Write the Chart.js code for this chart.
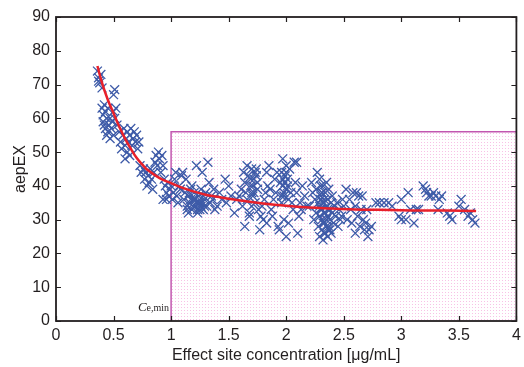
<!DOCTYPE html>
<html>
<head>
<meta charset="utf-8">
<script src="https://cdn.jsdelivr.net/npm/chart.js@4/dist/chart.umd.min.js"></script>
<style>
html,body{margin:0;padding:0;background:#fff;}
#wrap{width:524px;height:367px;position:relative;}
</style>
</head>
<body>
<div id="wrap"><canvas id="c" width="524" height="367"></canvas></div>
<script>
// ---- data ----
const concentration = [
0.36,0.37,0.38,0.39,0.40,0.37,0.51,0.50,
0.40,0.41,0.42,0.43,0.44,0.45,0.42,0.43,0.44,0.46,0.47,0.48,0.45,0.49,0.50,0.51,0.52,0.53,0.47,0.41,0.50,
0.55,0.56,0.58,0.59,0.60,0.61,0.62,0.63,0.64,0.65,0.66,0.67,0.68,0.69,0.70,0.71,0.62,0.60,0.64,0.72,0.57,
0.73,0.74,0.76,0.77,0.78,0.79,0.80,0.81,0.82,0.83,0.84,0.85,0.86,0.87,0.88,0.89,0.90,0.91,0.92,0.93,0.94,0.95,0.96,0.97,0.98,0.99,0.93,0.96,
1.00,1.01,1.02,1.03,1.04,1.05,1.06,1.07,1.08,1.09,1.10,1.11,1.12,1.13,1.14,1.15,1.16,1.17,1.18,1.19,1.20,1.21,1.22,1.23,1.24,1.25,1.26,1.27,1.28,1.29,1.30,1.31,1.32,1.33,1.34,1.35,1.36,1.37,1.38,1.40,1.42,1.44,1.18,1.22,1.25,1.20,1.28,1.15,
1.19,1.21,1.23,1.24,1.26,1.17,1.14,1.27,1.29,1.16,
1.47,1.48,1.50,1.52,1.55,1.57,1.59,1.61,1.62,1.63,1.64,1.65,1.66,1.67,1.68,1.69,1.70,1.71,1.72,1.73,1.74,1.75,1.76,1.64,1.77,1.78,1.79,1.80,1.81,1.82,1.83,1.83,1.84,1.66,1.70,1.68,1.72,1.75,
1.69,1.71,1.73,1.74,1.70,
1.85,1.86,1.87,1.88,1.89,1.90,1.91,1.92,1.93,1.94,1.95,1.96,1.97,1.97,1.98,1.99,2.00,2.00,2.01,2.02,2.03,2.04,2.05,2.06,2.07,2.08,2.09,2.09,2.10,2.11,2.12,2.13,2.14,1.96,2.00,1.98,2.02,
1.97,1.98,1.99,2.00,2.01,1.96,
2.16,2.18,2.20,2.22,2.23,2.24,2.25,2.26,2.27,2.28,2.29,2.29,2.30,2.30,2.31,2.31,2.32,2.32,2.33,2.33,2.34,2.34,2.35,2.35,2.36,2.36,2.37,2.37,2.38,2.38,2.39,2.39,2.40,2.40,2.41,2.42,2.43,2.44,2.45,2.46,2.47,2.48,2.49,2.30,2.28,2.26,2.31,2.33,2.35,2.32,2.36,2.38,
2.29,2.31,2.32,2.33,2.34,2.30,2.35,2.37,2.31,2.33,2.29,2.36,
2.50,2.52,2.53,2.55,2.56,2.57,2.58,2.60,2.61,2.62,2.63,2.64,2.65,2.66,2.67,2.68,2.69,2.70,2.72,2.74,2.60,2.71,
2.78,2.81,2.85,2.89,2.92,2.98,3.00,3.04,3.06,3.08,3.11,3.13,3.15,3.19,3.21,3.22,3.24,3.26,3.28,3.30,3.33,3.35,3.32,3.40,3.42,3.44,3.50,3.52,3.55,3.58,3.60,3.62,3.64,3.00
];
const aepEX = [
74,72,70.5,73,69,71,68.5,67,
63,61,64,62,60,63,58,57,55,58,60,57,56,59,62,60,63,58,54,59,55,
56,53,55,57,52,54,56,53,55,57,52,54,56,53,55,51,50,48,49,53,51,
46,44,45,42,44,40,43,41,45,42,39,44,47,49,46,50,48,44,49,46,42,40,38,41,37,39,36,36,
40,36,38,42,44,37,35,40,39,43,44,36,38,42,34,37,35,39,33,36,38,34,46,32,37,35,39,44,33,36,38,34,47,41,35,37,36,39,33,34,38,36,40,35,33,36,37,32,
34,36,33,35,34,36,33,35,34,38,
42,35,40,37,32,36,37,39,34,44,41,38,36,43,31,40,45,37,42,35,45,39,33,28,27,31,34,30,36,38,44,29,40,46,34,32,38,41,
42,40,44,43,38,
46,39,33,31,36,42,38,44,28,27,41,44,48,40,37,43,25,39,42,36,45,38,35,33,47,41,47,38,26,31,35,33,40,35,46,30,29,
42,38,41,44,40,37,
37,34,34,41,38,30,36,39,44,28,42,25,33,37,30,27,40,35,32,29,38,26,41,34,31,36,28,39,33,30,35,26,37,32,29,34,31,35,28,33,30,31,36,40,35,32,38,36,28,24,25,27,
31,33,29,35,32,36,30,27,38,26,34,33,
34,39,30,36,33,29,38,34,38,31,37,28,33,37,30,27,29,33,27,28,26,25,
35,35,35,35,34,31,30,30,38,33,29,33,33,40,39,38,37,37,38,37,36,37,33,32,31,30,34,36,33,31,32,30,29,36
];
// fitted curve
const fitConc = [0.36,0.40,0.45,0.50,0.55,0.60,0.65,0.70,0.75,0.80,0.90,1.00,1.10,1.20,1.30,1.40,1.50,1.60,1.80,2.00,2.20,2.40,2.60,2.80,3.00,3.20,3.40,3.65];
const fitAep  = [75.5,70.5,65.5,61.5,57.5,54,51,48.3,46.3,44.6,42.3,40.8,39.4,38.3,37.4,36.8,36.2,35.7,34.8,34.1,33.6,33.3,33.0,32.9,32.8,32.7,32.7,32.6];
// region C >= Ce,min
const regionX = [1, 4];
const regionY = [0, 56];
const xTicks = [0,0.5,1,1.5,2,2.5,3,3.5,4];
const yTicks = [0,10,20,30,40,50,60,70,80,90];

const scatterPts = concentration.map((x,i)=>({x:x, y:aepEX[i]}));
const fitPts = fitConc.map((x,i)=>({x:x, y:fitAep[i]}));

// dotted pink pattern
const tile = document.createElement('canvas');
tile.width = 3; tile.height = 3;
const tctx = tile.getContext('2d');
tctx.fillStyle = 'rgba(240,120,200,0.45)';
tctx.fillRect(1,1,1,1);

const FONT = "'Liberation Sans', Arial, sans-serif";
const TXT = '#231f20';

const regionPlugin = {
  id:'region',
  beforeDatasetsDraw(chart){
    const {ctx, scales:{x,y}} = chart;
    const x0 = x.getPixelForValue(regionX[0]), x1 = x.getPixelForValue(regionX[1]);
    const y0 = y.getPixelForValue(regionY[0]), y1 = y.getPixelForValue(regionY[1]);
    ctx.save();
    const pat = ctx.createPattern(tile,'repeat');
    ctx.fillStyle = pat;
    ctx.fillRect(x0, y1, x1-x0, y0-y1);
    ctx.strokeStyle = '#c257b0';
    ctx.lineWidth = 1.5;
    ctx.beginPath();
    ctx.moveTo(x0, y0); ctx.lineTo(x0, y1); ctx.lineTo(x1, y1);
    ctx.stroke();
    // label Ce,min
    ctx.fillStyle = TXT;
    ctx.textBaseline = 'alphabetic';
    ctx.font = "10px 'Liberation Serif', serif";
    const sub = 'e,min';
    const wSub = ctx.measureText(sub).width;
    ctx.textAlign = 'left';
    const right = x0 - 2;
    ctx.fillText(sub, right - wSub, y0 - 10);
    ctx.font = "italic 13px 'Liberation Serif', serif";
    const wC = ctx.measureText('C').width;
    ctx.fillText('C', right - wSub - wC, y0 - 10);
    ctx.restore();
  }
};

const framePlugin = {
  id:'frame',
  afterDraw(chart){
    const {ctx, chartArea:a, scales:{x,y}} = chart;
    ctx.save();
    ctx.strokeStyle = '#231f20';
    ctx.lineWidth = 1.2;
    const L = 5;
    ctx.beginPath();
    xTicks.forEach(v=>{
      const px = Math.round(x.getPixelForValue(v))+0.5;
      ctx.moveTo(px, a.bottom); ctx.lineTo(px, a.bottom - L);
      ctx.moveTo(px, a.top); ctx.lineTo(px, a.top + L);
    });
    yTicks.forEach(v=>{
      const py = Math.round(y.getPixelForValue(v))+0.5;
      ctx.moveTo(a.left, py); ctx.lineTo(a.left + L, py);
      ctx.moveTo(a.right, py); ctx.lineTo(a.right - L, py);
    });
    ctx.stroke();
    ctx.lineWidth = 1.8;
    ctx.strokeRect(a.left, a.top, a.right-a.left, a.bottom-a.top);
    ctx.restore();
  }
};

new Chart(document.getElementById('c'), {
  type:'scatter',
  data:{
    datasets:[
      { type:'line', data:fitPts, borderColor:'#e8202a', borderWidth:2.5, pointRadius:0, tension:0.4, fill:false, order:0 },
      { data:scatterPts, pointStyle:'crossRot', pointRadius:6.3, borderColor:'#3e5ba8', backgroundColor:'#3e5ba8', pointBorderWidth:1.3, order:1 }
    ]
  },
  options:{
    responsive:false,
    animation:false,
    events:[],
    layout:{padding:{left:0, top:17, right:5, bottom:0}},
    plugins:{legend:{display:false}, tooltip:{enabled:false}},
    scales:{
      x:{
        type:'linear', min:0, max:4,
        afterBuildTicks(s){ s.ticks = xTicks.map(v=>({value:v})); },
        afterFit(s){ s.height = 46; s.paddingRight = 0; s.paddingLeft = 0; },
        grid:{display:false, drawTicks:false},
        border:{display:false},
        ticks:{font:{family:FONT, size:16}, color:TXT, padding:5, maxRotation:0, autoSkip:false, callback:(v)=>String(v)},
        title:{display:true, text:'Effect site concentration [μg/mL]', font:{family:FONT, size:16}, color:TXT, padding:{top:0,bottom:2}}
      },
      y:{
        type:'linear', min:0, max:90,
        afterBuildTicks(s){ s.ticks = yTicks.map(v=>({value:v})); },
        afterFit(s){ s.width = 56; s.paddingTop = 0; s.paddingBottom = 0; },
        grid:{display:false, drawTicks:false},
        border:{display:false},
        ticks:{font:{family:FONT, size:16}, color:TXT, padding:6, autoSkip:false, callback:(v)=>String(v)},
        title:{display:true, text:'aepEX', font:{family:FONT, size:16}, color:TXT, padding:{top:11,bottom:0}}
      }
    }
  },
  plugins:[regionPlugin, framePlugin]
});
</script>
</body>
</html>
